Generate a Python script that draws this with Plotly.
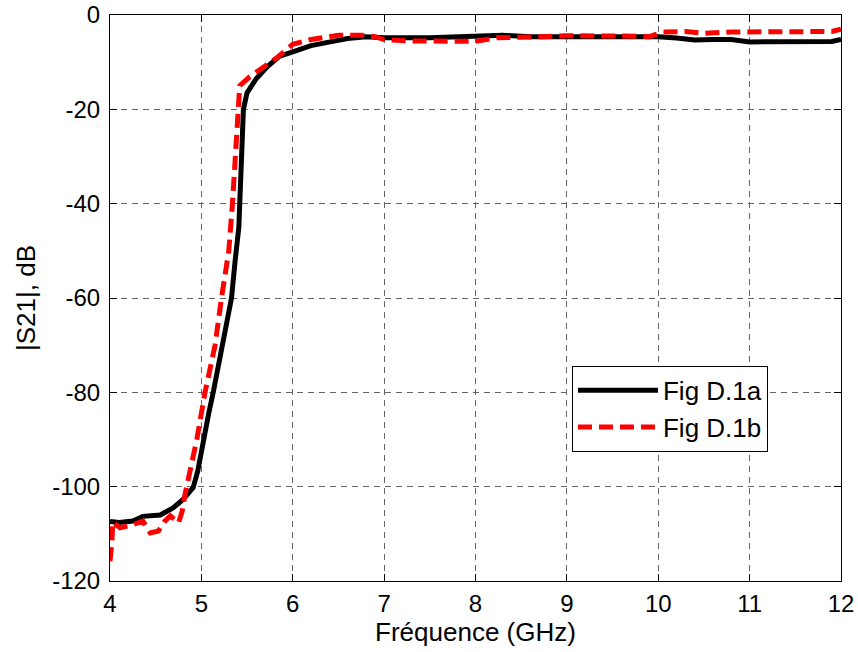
import plotly.graph_objects as go

# Fig D.1a (black, solid)
freq_a = [4.0, 4.1, 4.25, 4.36, 4.55, 4.69, 4.8, 4.91, 4.96, 5.02, 5.08, 5.13, 5.2, 5.27, 5.33,
          5.37, 5.41, 5.42, 5.44, 5.46, 5.5, 5.6, 5.72, 5.85, 6.0, 6.2, 6.41, 6.6, 6.8, 7.0,
          7.5, 8.0, 8.3, 8.6, 9.0, 9.5, 9.8, 10.0, 10.2, 10.4, 10.6, 10.8, 11.0, 11.3, 11.5,
          11.7, 11.9, 12.0]
s21_a = [-107.4, -107.6, -107.3, -106.3, -106.0, -104.5, -102.7, -100.2, -96.7, -90.0, -84.5, -80.0,
         -73.0, -66.0, -60.0, -52.0, -45.0, -40.0, -30.0, -20.0, -16.5, -13.5, -11.0, -8.8, -7.8,
         -6.5, -5.7, -5.0, -4.6, -4.8, -4.8, -4.6, -4.3, -4.6, -4.6, -4.5, -4.6, -4.6, -4.9,
         -5.3, -5.2, -5.2, -5.7, -5.7, -5.7, -5.5, -5.6, -5.2]

# Fig D.1b (red, dashed)
freq_b = [4.0, 4.02, 4.03, 4.11, 4.26, 4.36, 4.44, 4.53, 4.6, 4.66, 4.75, 4.79, 4.82, 4.88, 4.95,
          5.04, 5.15, 5.22, 5.3, 5.34, 5.37, 5.4, 5.42, 5.53, 5.64, 5.83, 6.0, 6.2, 6.5, 6.75,
          6.9, 7.0, 7.3, 7.6, 7.9, 8.0, 8.24, 8.5, 8.75, 9.0, 9.5, 9.8, 9.9, 10.05, 10.3, 10.5,
          10.8, 11.0, 11.3, 11.6, 11.9, 12.0]
s21_b = [-115.8, -112.0, -107.5, -108.7, -108.0, -107.3, -109.8, -109.4, -107.3, -106.2, -107.7,
         -105.2, -101.7, -96.8, -90.0, -80.0, -70.0, -60.0, -50.0, -40.0, -30.0, -20.0, -15.0,
         -13.1, -11.7, -9.0, -6.2, -5.2, -4.3, -4.3, -4.6, -5.2, -5.5, -5.5, -5.7, -5.6, -4.8,
         -4.8, -4.6, -4.4, -4.3, -4.5, -4.6, -3.6, -3.5, -3.9, -3.6, -3.6, -3.7, -3.5, -3.5, -3.0]

x_ticks = [4, 5, 6, 7, 8, 9, 10, 11, 12]
y_ticks = [0, -20, -40, -60, -80, -100, -120]
y_tick_labels = ["0", "-20", "-40", "-60", "-80", "-100", "-120"]

FAM = "Liberation Sans, Arial, sans-serif"
tick_font = dict(family=FAM, size=24, color="black")
title_font = dict(family=FAM, size=26, color="black")

fig = go.Figure()
fig.add_trace(go.Scatter(x=freq_a, y=s21_a, mode="lines", name="Fig D.1a",
                         line=dict(color="black", width=5)))
fig.add_trace(go.Scatter(x=freq_b, y=s21_b, mode="lines", name="Fig D.1b",
                         line=dict(color="red", width=5, dash="14px,7px")))

axis_common = dict(showline=True, linecolor="black", linewidth=1, mirror="ticks",
                   ticks="inside", ticklen=7, tickcolor="black", tickwidth=1,
                   showgrid=True, gridcolor="#666666", gridwidth=1, griddash="6px,5px",
                   zeroline=False, tickfont=tick_font, automargin=False,
                   ticklabeloverflow="allow")

fig.update_xaxes(range=[4, 12], tickvals=x_ticks,
                 title=dict(text="Fréquence (GHz)", font=title_font, standoff=4),
                 ticklabelstandoff=1, **axis_common)
fig.update_yaxes(range=[-120, 0], tickvals=y_ticks, ticktext=y_tick_labels,
                 title=dict(text="|S21|, dB", font=title_font, standoff=9),
                 ticklabelstandoff=4, **axis_common)

fig.update_layout(
    width=858, height=652,
    margin=dict(l=110, r=17, t=15, b=71),
    paper_bgcolor="white", plot_bgcolor="white",
    font=tick_font,
    legend=dict(x=0.632, y=0.38, xanchor="left", yanchor="top",
                bgcolor="white", bordercolor="black", borderwidth=1,
                font=title_font, itemwidth=80, tracegroupgap=0),
    showlegend=True,
)

# remove the default 8px page margin so the figure fills the window exactly
fig.write_html("out.html", config={"displayModeBar": False},
               post_script="document.body.style.margin='0px';")
